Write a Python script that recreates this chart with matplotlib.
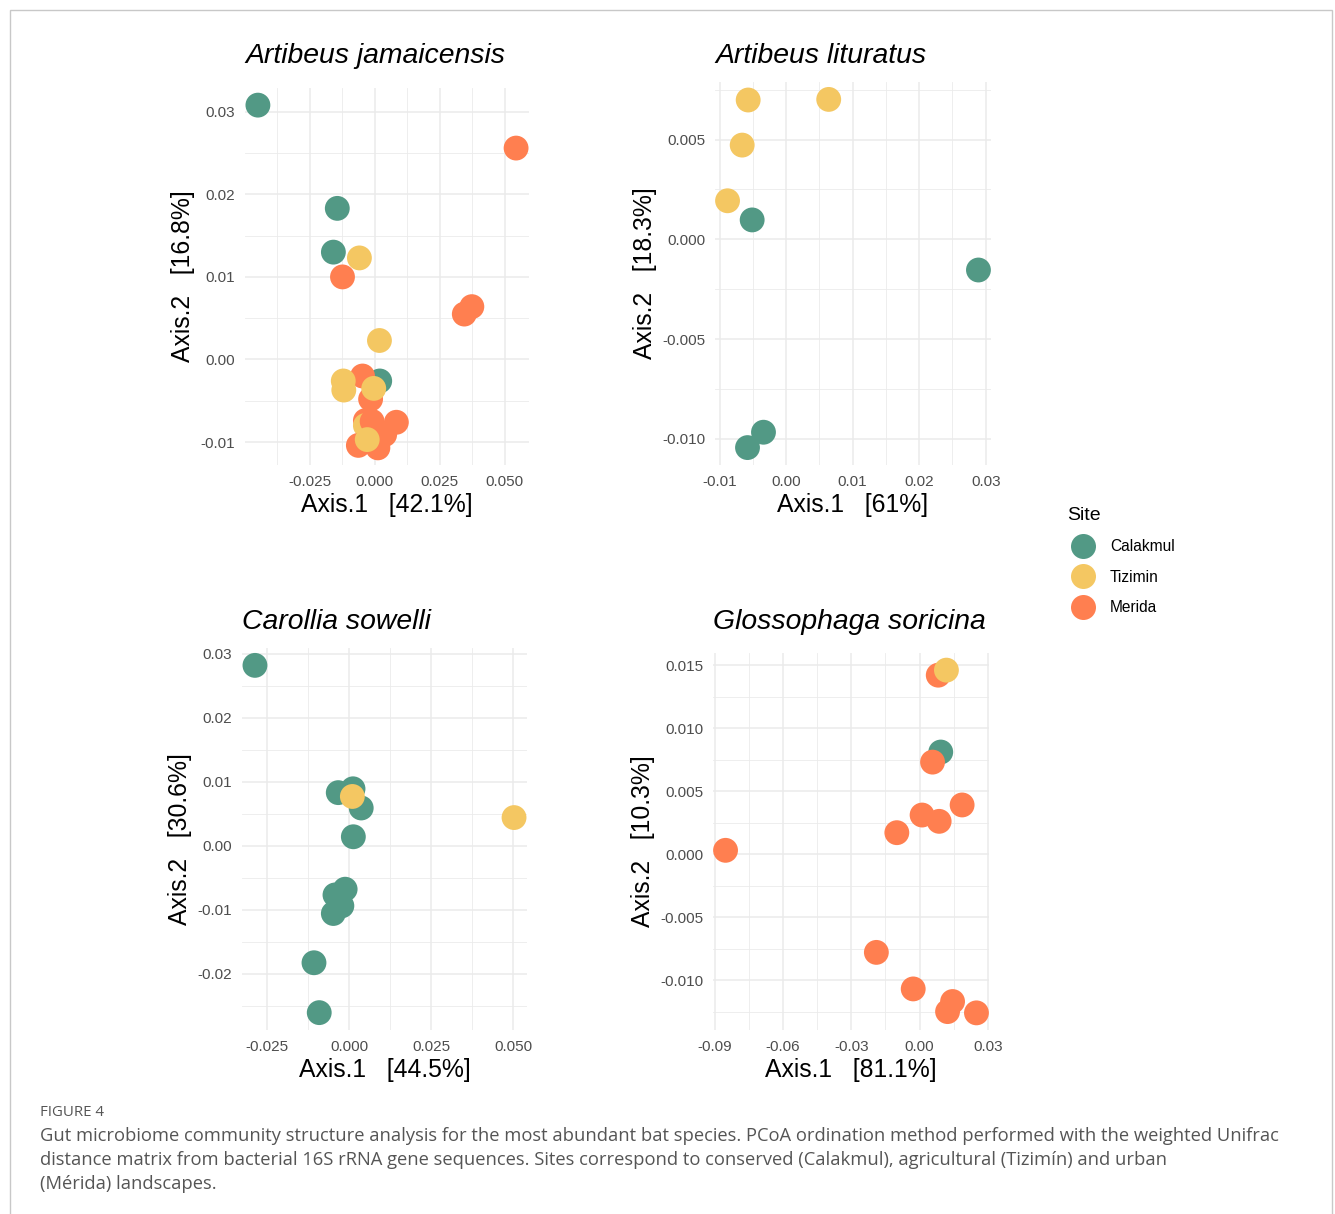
import matplotlib
matplotlib.use("Agg")
import matplotlib.pyplot as plt
from matplotlib.ticker import MultipleLocator, AutoMinorLocator, FormatStrFormatter
from matplotlib.lines import Line2D
from matplotlib.patches import Rectangle

plt.rcParams["font.family"] = ["Liberation Sans", "DejaVu Sans"]
plt.rcParams["axes.unicode_minus"] = False

W, H, DPI = 1335, 1214, 100

# ---- sites and colours ---------------------------------------------------
site_names = ["Calakmul", "Tizimin", "Merida"]
site_colors = ["#529985", "#F4C762", "#FF7F50"]

# ---- PCoA coordinates (weighted UniFrac), listed in drawing order --------
# Artibeus jamaicensis
aj_axis1 = [-0.0449, -0.0144, -0.0159, 0.0019,
            0.0543, -0.0124, 0.0373, 0.0344, -0.0047, -0.0016,
            -0.0059, 0.0018, -0.0121, -0.0119, -0.0004,
            -0.0036, -0.0036, -0.0010, 0.0083, 0.0038, -0.0063, 0.0012, -0.0029]
aj_axis2 = [0.0308, 0.0183, 0.0130, -0.0026,
            0.0256, 0.0100, 0.0064, 0.0055, -0.0020, -0.0048,
            0.0123, 0.0023, -0.0026, -0.0037, -0.0035,
            -0.0074, -0.0080, -0.0075, -0.0076, -0.0091, -0.0104, -0.0107, -0.0097]
aj_site = ["Calakmul"] * 4 + ["Merida"] * 6 + ["Tizimin"] * 5 + \
          ["Merida", "Tizimin", "Merida", "Merida", "Merida", "Merida", "Merida", "Tizimin"]

# Artibeus lituratus
al_axis1 = [-0.0057, 0.0064, -0.0066, -0.0088, -0.0051, 0.0289, -0.0034, -0.0058]
al_axis2 = [0.00698, 0.00701, 0.00472, 0.00193, 0.00097, -0.00154, -0.00967, -0.01044]
al_site = ["Tizimin"] * 4 + ["Calakmul"] * 4

# Carollia sowelli
cs_axis1 = [-0.0287, -0.0033, 0.0012, 0.0037, 0.0013, -0.0012, -0.0043, -0.0022,
            -0.0048, -0.0107, -0.0091, 0.0010, 0.0503]
cs_axis2 = [0.0282, 0.0083, 0.0089, 0.0059, 0.0014, -0.0068, -0.0077, -0.0094,
            -0.0106, -0.0183, -0.0261, 0.0077, 0.0044]
cs_site = ["Calakmul"] * 11 + ["Tizimin"] * 2

# Glossophaga soricina
gs_axis1 = [0.0093, -0.0853, 0.0082, 0.0057, 0.0187, 0.0011, 0.0086, -0.0100,
            -0.0190, -0.0028, 0.0145, 0.0123, 0.0250, 0.0118]
gs_axis2 = [0.0081, 0.0003, 0.0142, 0.0073, 0.0039, 0.0031, 0.0026, 0.0017,
            -0.0078, -0.0107, -0.0117, -0.0125, -0.0126, 0.0146]
gs_site = ["Calakmul"] + ["Merida"] * 12 + ["Tizimin"]

species = ["Artibeus jamaicensis", "Artibeus lituratus",
           "Carollia sowelli", "Glossophaga soricina"]
axis1_pct = ["42.1%", "61%", "44.5%", "81.1%"]
axis2_pct = ["16.8%", "18.3%", "30.6%", "10.3%"]

panels = [
    dict(x=aj_axis1, y=aj_axis2, site=aj_site, box=(245, 88, 529, 465),
         xstep=0.025, ystep=0.01, xfmt="%.3f", yfmt="%.2f", tbase=63),
    dict(x=al_axis1, y=al_axis2, site=al_site, box=(715, 82, 991, 465),
         xstep=0.01, ystep=0.005, xfmt="%.2f", yfmt="%.3f", tbase=63),
    dict(x=cs_axis1, y=cs_axis2, site=cs_site, box=(242, 648, 527, 1030),
         xstep=0.025, ystep=0.01, xfmt="%.3f", yfmt="%.2f", tbase=629),
    dict(x=gs_axis1, y=gs_axis2, site=gs_site, box=(713, 653, 989, 1030),
         xstep=0.03, ystep=0.005, xfmt="%.2f", yfmt="%.3f", tbase=629),
]

color_of = dict(zip(site_names, site_colors))
grid_col = "#EBEBEB"
tick_col = "#4D4D4D"

fig = plt.figure(figsize=(W / DPI, H / DPI), dpi=DPI)
fig.patch.set_facecolor("white")


def expand(vals, frac=0.05):
    lo, hi = min(vals), max(vals)
    pad = (hi - lo) * frac
    return lo - pad, hi + pad


for i, p in enumerate(panels):
    l, t, r, b = p["box"]
    ax = fig.add_axes([l / W, 1 - b / H, (r - l) / W, (b - t) / H])
    ax.set_facecolor("white")
    for s in ax.spines.values():
        s.set_visible(False)

    ax.scatter(p["x"], p["y"], c=[color_of[s] for s in p["site"]],
               s=320, linewidths=0, zorder=3)
    ax.set_xlim(*expand(p["x"]))
    ax.set_ylim(*expand(p["y"]))

    ax.xaxis.set_major_locator(MultipleLocator(p["xstep"]))
    ax.yaxis.set_major_locator(MultipleLocator(p["ystep"]))
    ax.xaxis.set_minor_locator(AutoMinorLocator(2))
    ax.yaxis.set_minor_locator(AutoMinorLocator(2))
    ax.xaxis.set_major_formatter(FormatStrFormatter(p["xfmt"]))
    ax.yaxis.set_major_formatter(FormatStrFormatter(p["yfmt"]))
    ax.grid(which="major", color=grid_col, lw=1.1, zorder=0)
    ax.grid(which="minor", color=grid_col, lw=0.6, zorder=0)
    ax.set_axisbelow(True)
    ax.tick_params(which="both", length=0)
    ax.tick_params(axis="both", labelsize=11, labelcolor=tick_col)
    ax.tick_params(axis="x", pad=7.5)
    ax.tick_params(axis="y", pad=7)

    ax.set_xlabel(f"Axis.1   [{axis1_pct[i]}]", fontsize=17.8, color="black")
    ax.set_ylabel(f"Axis.2   [{axis2_pct[i]}]", fontsize=17.8, color="black",
                  labelpad=4)
    hpx = b - t
    ax.xaxis.set_label_coords(0.5, -46.7 / hpx)
    ax.xaxis.label.set_va("baseline")

    fig.text(l / W, 1 - p["tbase"] / H, species[i], fontsize=20.4,
             fontstyle="italic", ha="left", va="baseline")

# ---- legend ----------------------------------------------------------------
handles = [Line2D([], [], ls="", marker="o", markersize=18, markeredgewidth=0,
                  color=c) for c in site_colors]
leg = fig.legend(handles, site_names, title="Site", loc="upper left",
                 bbox_to_anchor=(1062 / W, 1 - 502 / H), frameon=False,
                 fontsize=11.2, title_fontsize=14, borderpad=0.3, borderaxespad=0,
                 handlelength=2.1, handletextpad=0.67, labelspacing=1.0,
                 alignment="left")

# ---- caption ---------------------------------------------------------------
cap_font = ["Open Sans", "DejaVu Sans"]
fig.text(40 / W, 1 - 1112 / H, "FIGURE 4", fontsize=10.8, color="#555555",
         family=cap_font, va="center", ha="left")
caption_lines = [
    "Gut microbiome community structure analysis for the most abundant bat species. "
    "PCoA ordination method performed with the weighted Unifrac",
    "distance matrix from bacterial 16S rRNA gene sequences. Sites correspond to "
    "conserved (Calakmul), agricultural (Tizimín) and urban",
    "(Mérida) landscapes.",
]
for k, line in enumerate(caption_lines):
    fig.text(40 / W, 1 - (1136 + 24 * k) / H, line, fontsize=13.2,
             color="#555555", family=cap_font, va="center", ha="left")

# ---- outer frame -----------------------------------------------------------
fig.add_artist(Rectangle((9.5 / W, -0.05), (1332 - 9.5) / W, 1.05 - 9.5 / H,
                         transform=fig.transFigure, fill=False,
                         edgecolor="#C8C8C8", lw=1.0, clip_on=False))

fig.savefig("out.png", dpi=DPI, facecolor="white")
